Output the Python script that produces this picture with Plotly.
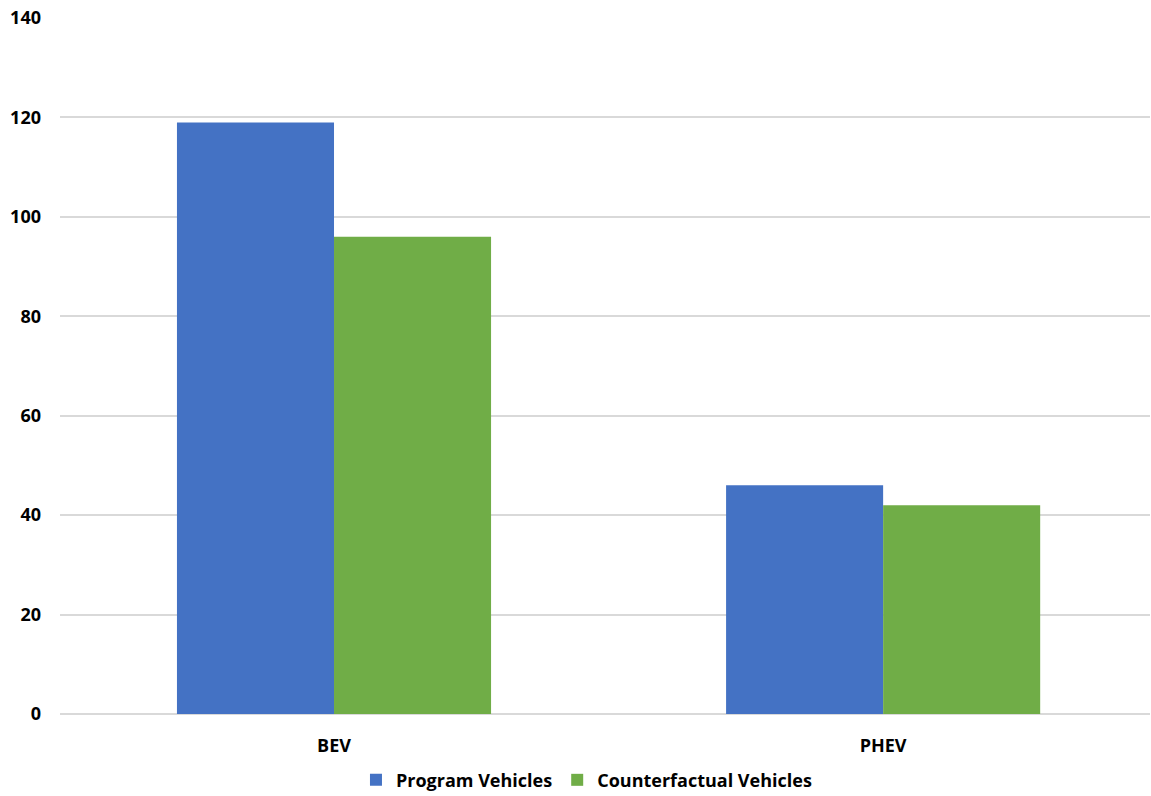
import plotly.graph_objects as go

categories = ["BEV", "PHEV"]
program_vehicles = [119, 46]
counterfactual_vehicles = [96, 42]
y_ticks = [0, 20, 40, 60, 80, 100, 120, 140]

BLUE = "#4472C4"
GREEN = "#70AD47"
FONT = "Open Sans"

fig = go.Figure()
fig.add_trace(go.Bar(name="Program Vehicles", x=categories, y=program_vehicles,
                     marker=dict(color=BLUE, line=dict(width=0))))
fig.add_trace(go.Bar(name="Counterfactual Vehicles", x=categories, y=counterfactual_vehicles,
                     marker=dict(color=GREEN, line=dict(width=0))))

fig.update_layout(
    width=1151, height=796,
    margin=dict(l=60, r=1, t=18, b=82, autoexpand=False),
    barmode="group", bargap=0.428, bargroupgap=0,
    plot_bgcolor="white", paper_bgcolor="white",
    font=dict(family=FONT, size=18, color="#000000"),
    legend=dict(orientation="h", x=0.483, xanchor="center", y=-0.095, yanchor="middle",
                font=dict(family=FONT, size=18, color="#000000", weight="bold"),
                itemwidth=30, traceorder="normal"),
    showlegend=True,
)
fig.update_xaxes(range=[-0.499, 1.486], showgrid=False, showline=False, ticks="",
                 automargin=False,
                 tickfont=dict(family=FONT, size=18, weight="bold"), ticklabelstandoff=19)
fig.update_yaxes(range=[0, 140], tickvals=y_ticks, showgrid=True, gridcolor="#D9D9D9",
                 gridwidth=1.5, zeroline=True, zerolinecolor="#D9D9D9", zerolinewidth=1.5,
                 showline=False, ticks="", automargin=False,
                 tickfont=dict(family=FONT, size=18, weight="bold"), ticklabelstandoff=18)

fig.write_html("out.html")
